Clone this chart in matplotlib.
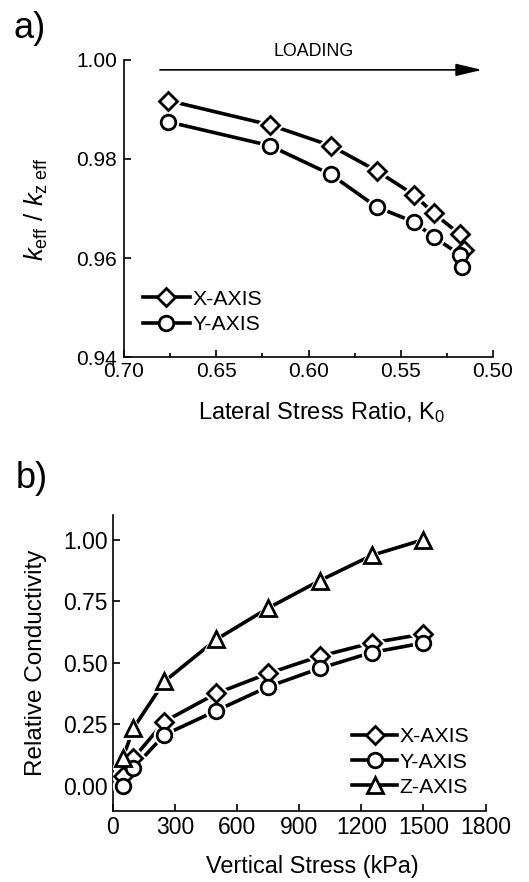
import matplotlib
matplotlib.use("Agg")
import matplotlib.pyplot as plt
from matplotlib.lines import Line2D

plt.rcParams["font.family"] = ["Liberation Sans", "DejaVu Sans"]
plt.rcParams["mathtext.fontset"] = "custom"
plt.rcParams["mathtext.rm"] = "Liberation Sans"
plt.rcParams["mathtext.it"] = "Liberation Sans:italic"

# panel a) - lateral stress ratio vs normalized conductivity
k0_x = [0.676, 0.621, 0.588, 0.563, 0.543, 0.532, 0.518, 0.516]
keff_x = [0.9918, 0.9869, 0.9827, 0.9776, 0.9728, 0.9690, 0.9648, 0.9616]
k0_y = [0.676, 0.621, 0.588, 0.563, 0.543, 0.532, 0.518, 0.517]
keff_y = [0.9875, 0.9827, 0.9769, 0.9703, 0.9673, 0.9642, 0.9607, 0.9581]

# panel b) - vertical stress vs relative conductivity
stress = [50, 100, 250, 500, 750, 1000, 1250, 1500]
cond_x = [0.039, 0.113, 0.262, 0.376, 0.457, 0.527, 0.581, 0.617]
cond_y = [0.000, 0.073, 0.208, 0.306, 0.403, 0.478, 0.542, 0.581]
cond_z = [0.115, 0.235, 0.425, 0.595, 0.722, 0.834, 0.936, 1.000]

LW = 2.6
MEW = 2.0
STYLE = {"X-AXIS": ("D", 9), "Y-AXIS": ("o", 10.5), "Z-AXIS": ("^", 12)}


def draw_series(ax, x, y, label):
    marker, ms = STYLE[label]
    ax.plot(x, y, color="k", lw=LW, zorder=2)
    # white halo gives the small gap between line and marker
    ax.plot(x, y, ls="none", marker=marker, ms=ms + 3, mfc="w", mec="w",
            mew=MEW, zorder=3)
    ax.plot(x, y, ls="none", marker=marker, ms=ms, mfc="w", mec="k",
            mew=MEW, zorder=4)
    return Line2D([], [], color="k", lw=LW, marker=marker, ms=ms, mfc="w",
                  mec="k", mew=MEW, label=label)


def style_axes(ax, tick_fs, pad):
    for s in ["top", "right"]:
        ax.spines[s].set_visible(False)
    for s in ["left", "bottom"]:
        ax.spines[s].set_linewidth(1.2)
    ax.tick_params(which="major", direction="in", length=5, width=1.2,
                   labelsize=tick_fs, pad=pad)
    ax.tick_params(which="minor", direction="in", length=3, width=1.2)


fig = plt.figure(figsize=(5.29, 8.82), dpi=100)

# ---- a)
ax1 = fig.add_axes([0.2344, 0.5952, 0.6976, 0.3368])
h1 = [draw_series(ax1, k0_x, keff_x, "X-AXIS"),
      draw_series(ax1, k0_y, keff_y, "Y-AXIS")]
ax1.set_xlim(0.70, 0.50)
ax1.set_ylim(0.94, 1.00)
ax1.set_xticks([0.70, 0.65, 0.60, 0.55, 0.50])
ax1.set_xticks([0.675, 0.625, 0.575, 0.525], minor=True)
ax1.set_yticks([0.94, 0.96, 0.98, 1.00])
ax1.xaxis.set_major_formatter("{x:.2f}")
ax1.yaxis.set_major_formatter("{x:.2f}")
style_axes(ax1, 15, 3.5)
ax1.tick_params(axis="y", pad=5)
ax1.set_xlabel("Lateral Stress Ratio, K$_0$", fontsize=17, va="top")
ax1.xaxis.set_label_coords(0.534, -0.145)
ax1.set_ylabel(r"$\mathit{k}_{\mathrm{eff}}\ /\ \mathit{k}_{\mathrm{z\ eff}}$",
               fontsize=18.5)
ax1.yaxis.set_label_coords(-0.20, 0.5)
ax1.legend(handles=h1, loc="center left", bbox_to_anchor=(0.0515, 0.1515),
           frameon=False, fontsize=15.3, handlelength=2.2, handletextpad=0.12,
           labelspacing=0.3, borderpad=0, borderaxespad=0)
ax1.annotate("", xy=(0.506, 0.998), xytext=(0.6805, 0.998),
             arrowprops=dict(arrowstyle="-|>,head_length=1.6,head_width=0.38",
                             mutation_scale=10, lw=1.2, color="k",
                             shrinkA=0, shrinkB=0),
             annotation_clip=False)
ax1.text(0.5975, 1.0017, "LOADING", fontsize=12.8, ha="center", va="center")
fig.text(0.026, 0.988, "a)", fontsize=26, va="top")

# ---- b)
ax2 = fig.add_axes([0.213, 0.0808, 0.705, 0.3353])
h2 = [draw_series(ax2, stress, cond_x, "X-AXIS"),
      draw_series(ax2, stress, cond_y, "Y-AXIS"),
      draw_series(ax2, stress, cond_z, "Z-AXIS")]
ax2.set_xlim(0, 1800)
ax2.set_ylim(-0.1, 1.1)
ax2.set_xticks([0, 300, 600, 900, 1200, 1500, 1800])
ax2.set_yticks([0.00, 0.25, 0.50, 0.75, 1.00])
ax2.yaxis.set_major_formatter("{x:.2f}")
style_axes(ax2, 16.5, 3.5)
ax2.set_xlabel("Vertical Stress (kPa)", fontsize=16.8, va="top")
ax2.xaxis.set_label_coords(0.536, -0.15)
ax2.set_ylabel("Relative Conductivity", fontsize=17.5)
ax2.yaxis.set_label_coords(-0.176, 0.5)
ax2.legend(handles=h2, loc="center left", bbox_to_anchor=(0.643, 0.1647),
           frameon=False, fontsize=15.3, handlelength=2.1, handletextpad=0.12,
           labelspacing=0.3, borderpad=0, borderaxespad=0)
fig.text(0.030, 0.477, "b)", fontsize=26, va="top")

fig.savefig("out.png", dpi=100)
